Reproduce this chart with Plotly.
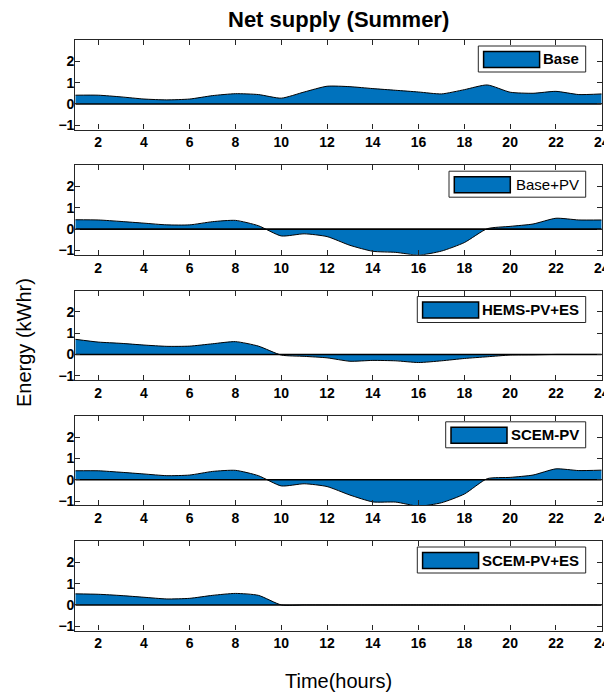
import plotly.graph_objects as go

hours = list(range(1, 25))

base = [0.41, 0.41, 0.33, 0.23, 0.19, 0.23, 0.39, 0.48, 0.44, 0.27, 0.56, 0.83,
        0.81, 0.72, 0.64, 0.56, 0.47, 0.67, 0.89, 0.55, 0.50, 0.59, 0.44, 0.47]
base_pv = [0.44, 0.43, 0.36, 0.28, 0.20, 0.20, 0.35, 0.41, 0.16, -0.32, -0.22, -0.35,
           -0.76, -1.04, -1.09, -1.22, -1.03, -0.63, 0.02, 0.13, 0.24, 0.51, 0.43, 0.43]
hems_pv_es = [0.71, 0.58, 0.52, 0.44, 0.38, 0.39, 0.50, 0.60, 0.39, -0.03, -0.09, -0.16,
              -0.32, -0.28, -0.30, -0.38, -0.30, -0.19, -0.11, -0.03, -0.02, 0.0, 0.0, 0.0]
scem_pv = [0.42, 0.42, 0.35, 0.27, 0.19, 0.22, 0.39, 0.44, 0.19, -0.29, -0.19, -0.32,
           -0.72, -1.04, -1.05, -1.24, -1.08, -0.67, 0.05, 0.11, 0.22, 0.51, 0.43, 0.45]
scem_pv_es = [0.52, 0.50, 0.44, 0.36, 0.28, 0.31, 0.45, 0.54, 0.45, 0.0, 0.0, 0.0,
              0.0, 0.0, 0.0, 0.0, 0.0, 0.0, 0.0, 0.0, 0.0, 0.0, 0.0, 0.0]

series_names = ["Base", "Base+PV", "HEMS-PV+ES", "SCEM-PV", "SCEM-PV+ES"]
series_values = [base, base_pv, hems_pv_es, scem_pv, scem_pv_es]
name_bold = [True, False, True, True, True]

x_ticks = list(range(2, 25, 2))
y_ticks = [-1, 0, 1, 2]

W, H = 612, 694
OFF = 8  # page body margin offset
FILL = "#0072BD"
AX = "#262626"
FONT = "Liberation Sans, Arial, Helvetica, sans-serif"


def px(x):
    return (x - OFF) / W


def py(y):
    return 1 - (y - OFF) / H


x_left, x_right = 75.3, 601.7
tops = [40, 165.2, 290.5, 415.8, 541]
ph = 89.5
legend_left = [478.3, 449.0, 417.3, 445.7, 417.3]
legend_right = 585.7

fig = go.Figure()
shapes = []
annotations = []

for i, (name, vals) in enumerate(zip(series_names, series_values)):
    k = i + 1
    xa = "x" if k == 1 else f"x{k}"
    ya = "y" if k == 1 else f"y{k}"
    fig.add_trace(go.Scatter(x=hours, y=vals, mode="lines", fill="tozeroy",
                             fillcolor=FILL,
                             line=dict(color="black", width=1, shape="spline", smoothing=0.6),
                             xaxis=xa, yaxis=ya, showlegend=False, hoverinfo="skip"))
    fig.add_trace(go.Scatter(x=hours, y=[0] * len(hours), mode="lines",
                             line=dict(color="black", width=1.6),
                             xaxis=xa, yaxis=ya, showlegend=False, hoverinfo="skip"))
    top = tops[i]
    bot = top + ph
    axis_common = dict(showline=True, linecolor=AX, linewidth=1.2, mirror="ticks",
                       ticks="inside", ticklen=5, tickcolor=AX, tickwidth=1,
                       showgrid=False, zeroline=False,
                       tickfont=dict(family=FONT, size=14, color="black", weight="bold"))
    fig.update_layout(**{
        ("xaxis" if k == 1 else f"xaxis{k}"): dict(
            domain=[px(x_left), px(x_right)], range=[1, 24],
            tickvals=x_ticks, anchor=ya, **axis_common),
        ("yaxis" if k == 1 else f"yaxis{k}"): dict(
            domain=[py(bot), py(top)], range=[-1.2, 3],
            tickvals=y_ticks, anchor=xa, ticklabelstandoff=-3, **axis_common),
    })
    # legend box
    bt = top + 6
    bb = bt + 26
    bl = legend_left[i]
    shapes.append(dict(type="rect", xref="paper", yref="paper",
                       x0=px(bl), x1=px(legend_right), y0=py(bb), y1=py(bt),
                       fillcolor="white", line=dict(color=AX, width=1)))
    shapes.append(dict(type="rect", xref="paper", yref="paper",
                       x0=px(bl + 5.3), x1=px(bl + 61.3),
                       y0=py(bt + 21.5), y1=py(bt + 5.5),
                       fillcolor=FILL, line=dict(color="black", width=1.5)))
    annotations.append(dict(xref="paper", yref="paper", x=px(581), y=py(bt + 13),
                            xanchor="right", yanchor="middle", showarrow=False,
                            text=name,
                            font=dict(family=FONT, size=15, color="black",
                                      weight="bold" if name_bold[i] else "normal")))

annotations.append(dict(xref="paper", yref="paper", x=px(24), y=py(343),
                        text="Energy (kWhr)", textangle=-90, showarrow=False,
                        xanchor="center", yanchor="middle",
                        font=dict(family=FONT, size=20, color="black")))
annotations.append(dict(xref="paper", yref="paper", x=px(338.5), y=py(681),
                        text="Time(hours)", showarrow=False,
                        xanchor="center", yanchor="middle",
                        font=dict(family=FONT, size=20, color="black")))
annotations.append(dict(xref="paper", yref="paper", x=px(338.5), y=py(20),
                        text="<b>Net supply (Summer)</b>", showarrow=False,
                        xanchor="center", yanchor="middle",
                        font=dict(family=FONT, size=22, color="black")))

fig.update_layout(
    width=W, height=H,
    margin=dict(l=0, r=0, t=0, b=0, autoexpand=False),
    paper_bgcolor="white", plot_bgcolor="white",
    shapes=shapes, annotations=annotations,
)

fig.write_html("out.html")
